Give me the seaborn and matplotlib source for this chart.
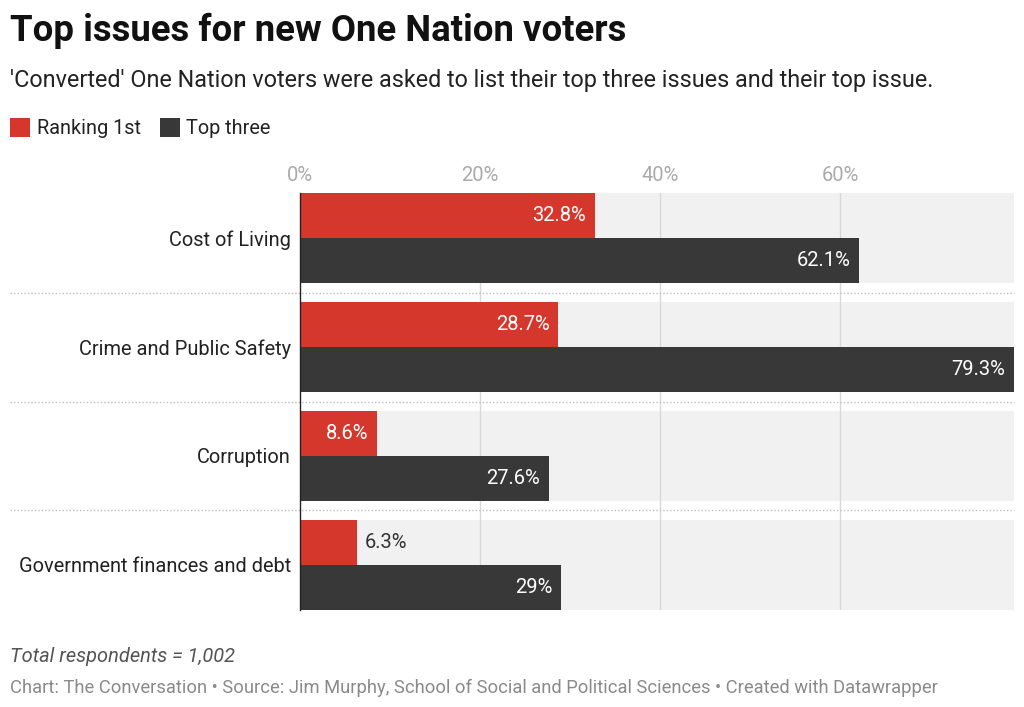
import pandas as pd
import numpy as np
import matplotlib
matplotlib.use('Agg')
import matplotlib.pyplot as plt
import matplotlib.transforms as mtransforms
from matplotlib.patches import Patch
import seaborn as sns

categories = ["Cost of Living", "Crime and Public Safety", "Corruption",
              "Government finances and debt"]
ranking_first = [32.8, 28.7, 8.6, 6.3]
top_three = [62.1, 79.3, 27.6, 29.0]
series_names = ["Ranking 1st", "Top three"]
x_ticks = [0, 20, 40, 60]
x_tick_labels = ["0%", "20%", "40%", "60%"]

RED = '#d6372c'
DARK = '#383838'
BAND = '#f1f1f1'

df = pd.DataFrame({'issue': categories,
                   series_names[0]: ranking_first,
                   series_names[1]: top_three})
long_df = df.melt(id_vars='issue', var_name='series', value_name='pct')

sns.set_style('white')
plt.rcParams['font.family'] = ['Roboto', 'DejaVu Sans']

fig = plt.figure(figsize=(10.24, 7.07), dpi=100)
ax = fig.add_axes([300 / 1024, 97 / 707, 714 / 1024, 417 / 707])

xmax = max(max(ranking_first), max(top_three))
group_w = 0.826

# grey background bands behind each group
ax.barh(np.arange(len(categories)), [xmax] * len(categories), height=group_w,
        color=BAND, zorder=0, linewidth=0)

# vertical gridlines
for t in x_ticks[1:]:
    ax.axvline(t, color='#d8d8d8', lw=1, zorder=1)

sns.barplot(data=long_df, y='issue', x='pct', hue='series', orient='h',
            palette=[RED, DARK], width=group_w, dodge=True, saturation=1,
            legend=False, ax=ax, zorder=2, linewidth=0)

ax.set_xlim(0, xmax)
ax.set_ylim(len(categories) - 1 + group_w / 2, -group_w / 2)

# value labels (last two containers are the seaborn bars)
for cont, vals in zip(ax.containers[-2:], [ranking_first, top_three]):
    for bar, v in zip(cont, vals):
        yc = bar.get_y() + bar.get_height() / 2
        txt = f"{v:g}%"
        if v < 8:
            ax.annotate(txt, (v, yc), xytext=(8, 0), textcoords='offset pixels',
                        ha='left', va='center', color='#333333', fontsize=14.5, zorder=3)
        else:
            ax.annotate(txt, (v, yc), xytext=(-9, 0), textcoords='offset pixels',
                        ha='right', va='center', color='white', fontsize=14.5, zorder=3)

# dotted separators between groups
trans = mtransforms.blended_transform_factory(fig.transFigure, ax.transData)
for i in range(len(categories) - 1):
    ax.plot([10 / 1024, 1014 / 1024], [i + 0.5, i + 0.5], transform=trans,
            color='#bdbdbd', lw=1, ls=(0, (1, 1.5)), clip_on=False, zorder=1)

ax.xaxis.tick_top()
ax.set_xticks(x_ticks)
ax.set_xticklabels(x_tick_labels, color='#aaaaaa', fontsize=14.5)
ax.tick_params(axis='x', length=0, pad=6)
ax.tick_params(axis='y', length=0, pad=6.5, labelsize=14.4, labelcolor='#222222')
ax.set_xlabel('')
ax.set_ylabel('')
for s in ['top', 'right', 'bottom']:
    ax.spines[s].set_visible(False)
ax.spines['left'].set_color('#222222')
ax.spines['left'].set_linewidth(1)
ax.spines['left'].set_zorder(4)

fig.text(10 / 1024, 1 - 31 / 707, "Top issues for new One Nation voters",
         fontsize=26.3, fontweight='bold', color='#111111', va='center', ha='left')
fig.text(10 / 1024, 1 - 81 / 707,
         "'Converted' One Nation voters were asked to list their top three issues and their top issue.",
         fontsize=16.8, color='#222222', va='center', ha='left')

handles = [Patch(facecolor=RED, edgecolor='none'), Patch(facecolor=DARK, edgecolor='none')]
fig.legend(handles, series_names, loc='center left', bbox_to_anchor=(10 / 1024, 1 - 128 / 707),
           ncol=2, frameon=False, fontsize=14.3, handlelength=1.0, handleheight=1.1,
           handletextpad=0.35, columnspacing=0.95, labelcolor='#222222',
           borderpad=0, borderaxespad=0)

fig.text(10 / 1024, 1 - 657 / 707, "Total respondents = 1,002", fontsize=14.4,
         style='italic', color='#555555', va='center', ha='left')
fig.text(10 / 1024, 1 - 688 / 707,
         "Chart: The Conversation \u2022 Source: Jim Murphy, School of Social and Political Sciences \u2022 Created with Datawrapper",
         fontsize=13.2, color='#8a8a8a', va='center', ha='left')

fig.savefig('out.png', dpi=100)
